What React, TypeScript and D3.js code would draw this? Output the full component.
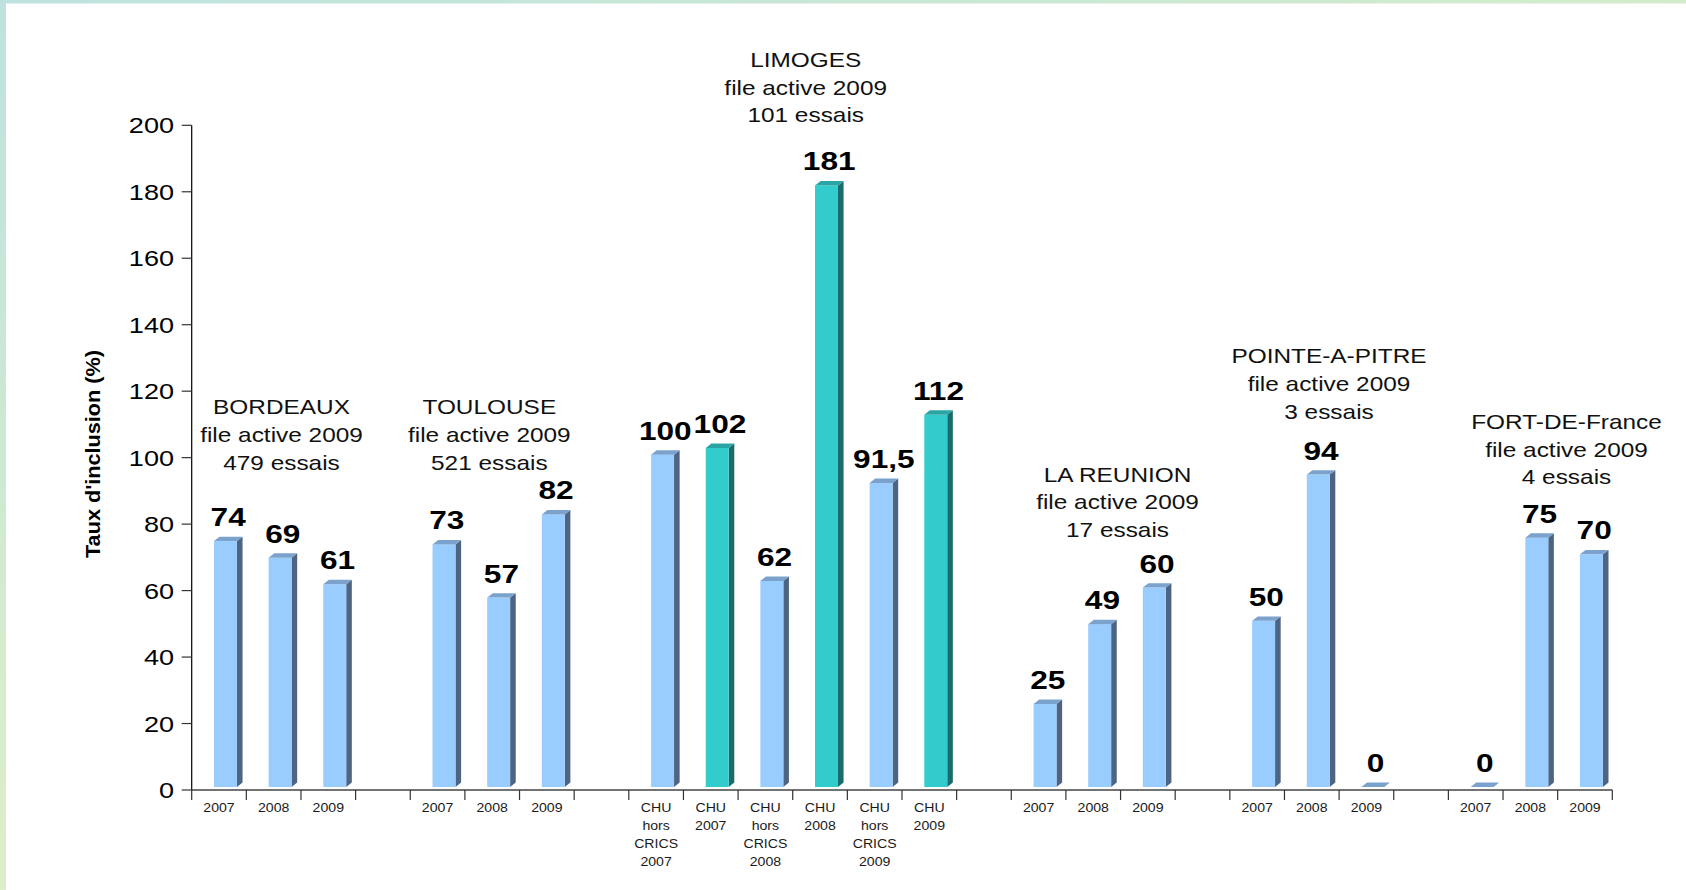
import React from "react";
import * as d3 from "d3";

// Inclusion rate (%) per site and year; nulls are gap slots between sites.
const slotLabels: string[][] = [
  ["2007"], ["2008"], ["2009"], [],
  ["2007"], ["2008"], ["2009"], [],
  ["CHU", "hors", "CRICS", "2007"], ["CHU", "2007"],
  ["CHU", "hors", "CRICS", "2008"], ["CHU", "2008"],
  ["CHU", "hors", "CRICS", "2009"], ["CHU", "2009"], [],
  ["2007"], ["2008"], ["2009"], [],
  ["2007"], ["2008"], ["2009"], [],
  ["2007"], ["2008"], ["2009"],
];

const rates: (number | null)[] = [
  74, 69, 61, null,
  73, 57, 82, null,
  100, 102, 62, 181, 91.5, 112, null,
  25, 49, 60, null,
  50, 94, 0, null,
  0, 75, 70,
];

// "chu" bars are the Limoges CHU totals, drawn in teal
const barKinds: (string | null)[] = [
  "site", "site", "site", null,
  "site", "site", "site", null,
  "site", "chu", "site", "chu", "site", "chu", null,
  "site", "site", "site", null,
  "site", "site", "site", null,
  "site", "site", "site",
];

const groupTitles: string[][] = [
  ["BORDEAUX", "file active 2009", "479 essais"],
  ["TOULOUSE", "file active 2009", "521 essais"],
  ["LIMOGES", "file active 2009", "101 essais"],
  ["LA REUNION", "file active 2009", "17 essais"],
  ["POINTE-A-PITRE", "file active 2009", "3 essais"],
  ["FORT-DE-France", "file active 2009", "4 essais"],
];

const yTicks = [0, 20, 40, 60, 80, 100, 120, 140, 160, 180, 200];

// ---- layout ----
const W = 1686;
const H = 890;
const plotLeft = 191.7;
const plotRight = 1612.3;
const yZero = 790;
const yTop = 125.3;
const lift = 3; // bars stand slightly above the axis line
const depthX = 5.6;
const depthY = 4.4;
const FONT = "'Liberation Sans', Arial, sans-serif";
const SX = 1.22; // horizontal text stretch

const titleAnchors = [
  { x: 281.5, y: 414 },
  { x: 489.3, y: 414 },
  { x: 805.7, y: 66.7 },
  { x: 1117.5, y: 481.5 },
  { x: 1329, y: 363.3 },
  { x: 1566.5, y: 428.8 },
];

const palette: Record<string, { front: string; side: string; top: string }> = {
  site: { front: "#99CCFF", side: "#4D6482", top: "#7AA2CC" },
  chu: { front: "#33CCCC", side: "#1B6B6B", top: "#2AA5A5" },
};

function SText(props: {
  x: number;
  y: number;
  anchor?: "start" | "middle" | "end";
  size: number;
  weight?: string | number;
  fill?: string;
  sx?: number;
  children: React.ReactNode;
}) {
  const { x, y, anchor = "middle", size, weight = "normal", fill = "#000", sx = SX, children } = props;
  return (
    <text
      transform={`translate(${x},${y}) scale(${sx},1)`}
      textAnchor={anchor}
      fontFamily={FONT}
      fontSize={size}
      fontWeight={weight}
      fill={fill}
    >
      {children}
    </text>
  );
}

const fmt = (v: number) => String(v).replace(".", ",");

export default function App() {
  const slots = d3.range(rates.length);
  const x = d3
    .scaleBand<number>()
    .domain(slots)
    .range([plotLeft, plotRight])
    .paddingInner(0)
    .paddingOuter(0);
  const bw = x.bandwidth();
  const y = d3.scaleLinear().domain([0, 200]).range([yZero, yTop]);

  const boundaries = d3.range(rates.length + 1).map((i) => plotLeft + i * bw);

  return (
    <svg
      width={W}
      height={H}
      viewBox={`0 0 ${W} ${H}`}
      style={{ position: "absolute", left: 0, top: 0, display: "block" }}
    >
      <defs>
        <linearGradient id="edgeLeft" x1="0" y1="0" x2="0" y2="1">
          <stop offset="0" stopColor="#BEE2DF" />
          <stop offset="1" stopColor="#DDEFC8" />
        </linearGradient>
        <linearGradient id="edgeTop" x1="0" y1="0" x2="1" y2="0">
          <stop offset="0" stopColor="#BEE2DF" />
          <stop offset="1" stopColor="#D3ECCB" />
        </linearGradient>
      </defs>
      <rect x={0} y={0} width={W} height={H} fill="#FFFFFF" />
      <rect x={0} y={0} width={W} height={3.5} fill="url(#edgeTop)" />
      <rect x={0} y={0} width={6} height={H} fill="url(#edgeLeft)" />

      {/* y axis */}
      <line x1={plotLeft} y1={yTop} x2={plotLeft} y2={yZero} stroke="#000" strokeWidth={1.2} />
      {yTicks.map((t) => (
        <g key={t}>
          <line x1={plotLeft - 10} x2={plotLeft} y1={y(t)} y2={y(t)} stroke="#333" strokeWidth={1.2} />
          <SText x={174} y={y(t) + 8} anchor="end" size={21.5} sx={1.26}>
            {t}
          </SText>
        </g>
      ))}

      {/* x axis */}
      <line x1={plotLeft} y1={yZero} x2={plotRight} y2={yZero} stroke="#444" strokeWidth={1.3} />
      {boundaries.map((bx, i) => (
        <line key={i} x1={bx} x2={bx} y1={yZero} y2={yZero + 10} stroke="#333" strokeWidth={1.2} />
      ))}
      {slots.map((i) =>
        slotLabels[i].map((line, j) => (
          <SText key={`${i}-${j}`} x={(x(i) as number) + bw / 2} y={812 + j * 18} size={12.5} sx={1.13} fill="#1a1a1a">
            {line}
          </SText>
        ))
      )}

      {/* bars */}
      {slots.map((i) => {
        const v = rates[i];
        const kind = barKinds[i];
        if (v === null || kind === null) return null;
        const c = palette[kind];
        const left = (x(i) as number) + bw * 0.408;
        const right = left + bw * 0.42;
        const bottom = y(0) - lift;
        const top = y(v) - lift;
        const topFace = `M${left},${top}L${right},${top}L${right + depthX},${top - depthY}L${left + depthX},${top - depthY}Z`;
        const sideFace = `M${right},${top}L${right + depthX},${top - depthY}L${right + depthX},${bottom - depthY}L${right},${bottom}Z`;
        return (
          <g key={i}>
            {v > 0 && <path d={sideFace} fill={c.side} />}
            {v > 0 && <rect x={left} y={top} width={right - left} height={bottom - top} fill={c.front} />}
            <path d={topFace} fill={c.top} />
            <SText x={(x(i) as number) + 36.5} y={top - 15} size={25.5} weight="bold" sx={1.24}>
              {fmt(v)}
            </SText>
          </g>
        );
      })}

      {/* site titles */}
      {groupTitles.map((lines, g) =>
        lines.map((line, j) => (
          <SText key={`${g}-${j}`} x={titleAnchors[g].x} y={titleAnchors[g].y + j * 27.8} size={20} fill="#111">
            {line}
          </SText>
        ))
      )}

      {/* y axis title */}
      <text
        transform="translate(100,454) rotate(-90)"
        textAnchor="middle"
        fontFamily={FONT}
        fontSize={21}
        fontWeight="bold"
        textLength={208}
        lengthAdjust="spacingAndGlyphs"
        fill="#000"
      >
        Taux d'inclusion (%)
      </text>
    </svg>
  );
}
